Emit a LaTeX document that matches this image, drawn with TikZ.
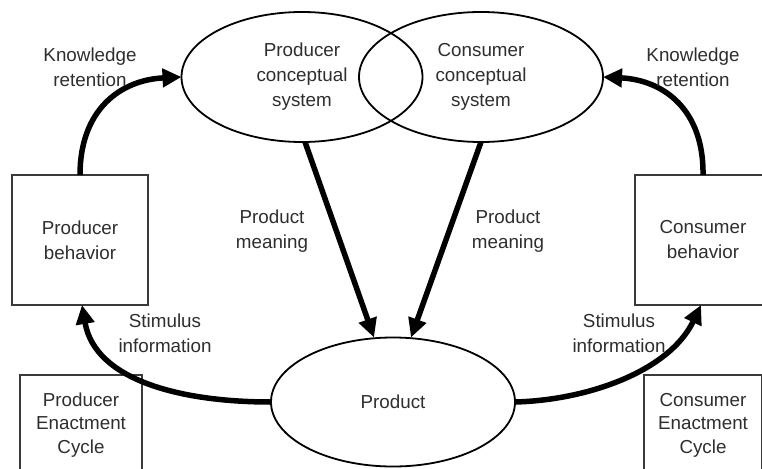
\documentclass[tikz,border=0pt]{standalone}
\usepackage{fontspec}
\setmainfont{Liberation Sans}
\usetikzlibrary{shapes.geometric,arrows.meta}
\definecolor{txtgray}{HTML}{2E2E2E}
\definecolor{boxgray}{HTML}{3A3A3A}
\begin{document}
\begin{tikzpicture}[x=1pt,y=-1pt,
  every node/.style={text=txtgray, align=center, inner sep=0pt, outer sep=0pt,
    font=\fontsize{18.8}{25}\selectfont},
  concept/.style={ellipse, draw=black, line width=1.8pt},
  stagebox/.style={rectangle, draw=boxgray, line width=2pt, minimum width=136pt, minimum height=130pt},
  cyclebox/.style={rectangle, draw=boxgray, line width=2pt, minimum height=100pt,
    font=\fontsize{18.8}{23.5}\selectfont},
  flow/.style={line width=5.5pt, draw=black,
    -{Triangle[length=19pt,width=18pt]}},
  lbl/.style={fill=none}]
\useasboundingbox (0,0) rectangle (762,468);
\clip (0,0) rectangle (762,468);
\fill[white] (0,0) rectangle (762,468);

% conceptual systems and the product
\node[concept, minimum width=241pt, minimum height=130pt] (pcs) at (302,77) {Producer\\conceptual\\system};
\node[concept, minimum width=244pt, minimum height=130pt] (ccs) at (481,77) {Consumer\\conceptual\\system};
\node[concept, minimum width=244pt, minimum height=129pt] (prod) at (393,402) {Product};

% behaviour boxes
\node[stagebox] (pb) at (80,240) {Producer\\behavior};
\node[stagebox] (cb) at (703,240) {Consumer\\behavior};

% enactment cycle boxes
\node[cyclebox, minimum width=122pt] (pec) at (81,425) {Producer\\Enactment\\Cycle};
\node[cyclebox, minimum width=118pt] (cec) at (703,425) {Consumer\\Enactment\\Cycle};

% knowledge retention
\draw[flow] (pb.north) .. controls (80,110) and (120,80) .. (pcs.west);
\draw[flow] (cb.north) .. controls (704,110) and (664,80) .. (ccs.east);

% product meaning
\draw[flow] ([xshift=3pt]pcs.south) -- ([xshift=-19pt]prod.north);
\draw[flow] (ccs.south) -- ([xshift=18pt]prod.north);

% stimulus information
\draw[flow] (prod.west) .. controls (180,402) and (95,380) .. ([xshift=2pt]pb.south);
\draw[flow] (prod.east) .. controls (590,400) and (670,370) .. ([xshift=-2pt]cb.south);

% labels
\node[lbl] (kl) at (90,67) {Knowledge\\retention};
\node[lbl] (kr) at (693,67) {Knowledge\\retention};
\node[lbl] (ml) at (272,231) {Product\\meaning};
\node[lbl] (mr) at (508,231) {Product\\meaning};
\node[lbl] (sl) at (165,333) {Stimulus\\information};
\node[lbl] (sr) at (619,333) {Stimulus\\information};
\end{tikzpicture}
\end{document}
